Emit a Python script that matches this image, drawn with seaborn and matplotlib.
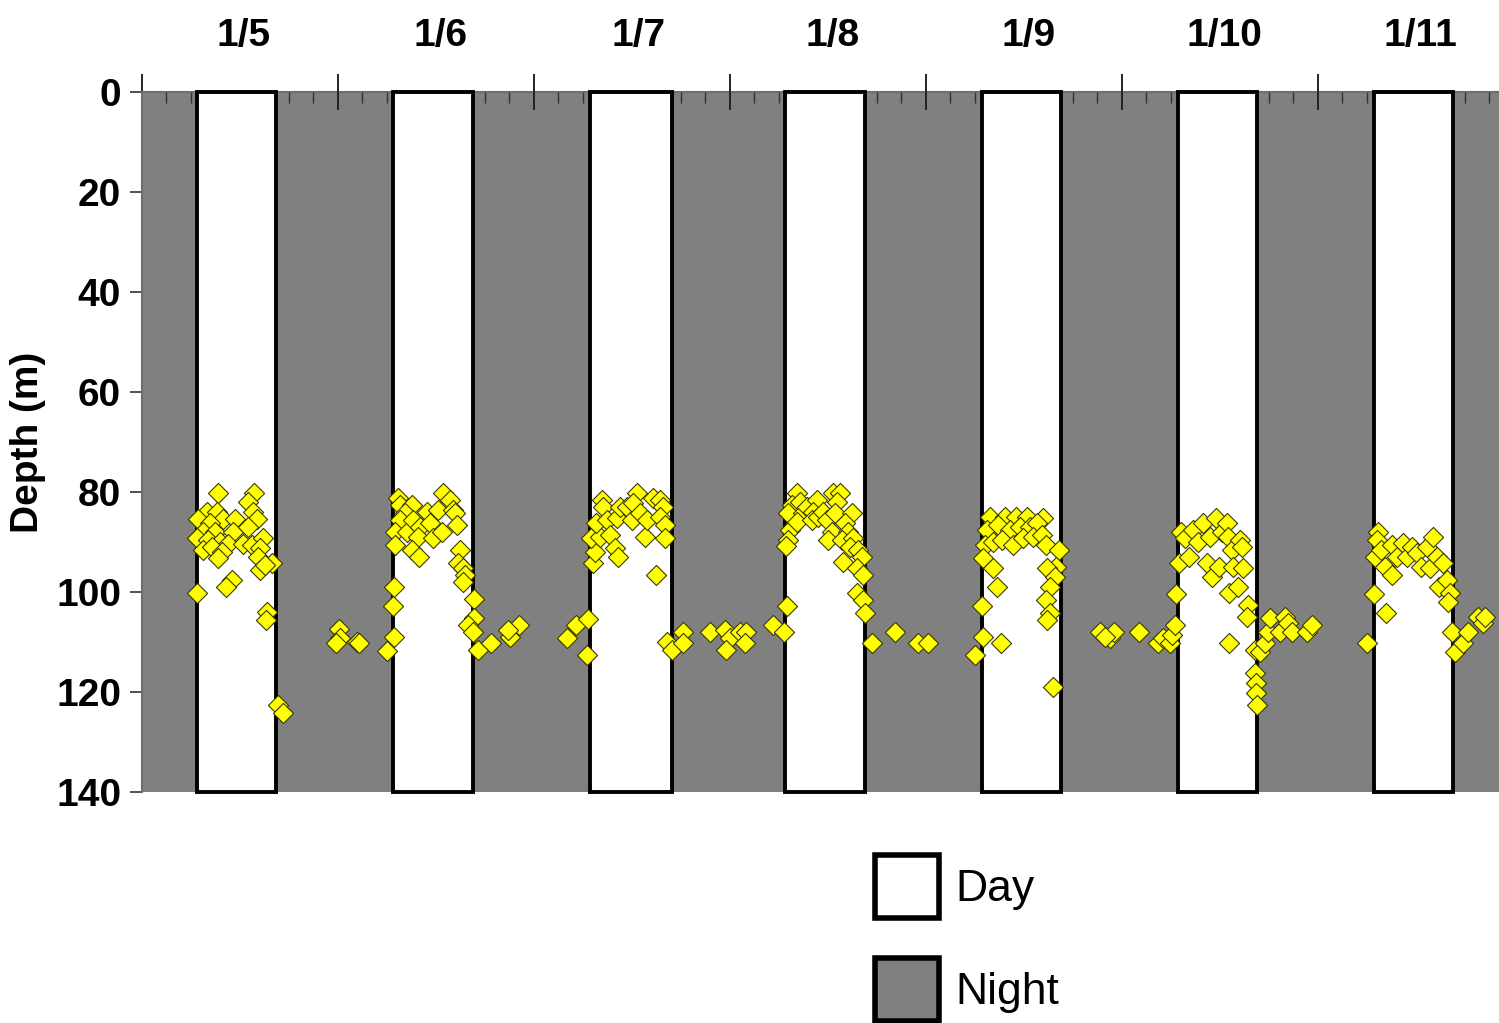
import matplotlib
matplotlib.use("Agg")
import matplotlib.pyplot as plt
from matplotlib.patches import Patch
from matplotlib.ticker import MultipleLocator
import seaborn as sns
import pandas as pd

# Date labels, one per day (hours counted from 1/5 00:00)
day_labels = ["1/5", "1/6", "1/7", "1/8", "1/9", "1/10", "1/11"]
sunrise_h = [6.70, 30.77, 54.85, 78.74, 102.86, 126.86, 150.90]
sunset_h = [16.41, 40.49, 64.90, 88.53, 112.53, 136.57, 160.57]

# Tag positions: elapsed hours and depth (m)
hours = [
    # 1/5 day
    9.3, 13.7, 13.0, 8.0, 9.2, 6.9, 9.9, 11.4, 13.6, 14.1, 8.3, 7.5, 8.9, 11.1, 13.0,
    6.7, 8.1, 9.6, 10.5, 12.4, 13.5, 14.8, 7.5, 8.6, 9.8, 14.5, 9.3, 14.2, 15.9, 14.5,
    15.1, 11.0, 10.3, 6.7, 15.3, 15.2, 16.7, 17.3,
    # 1/5 night
    24.1, 24.3, 23.8, 26.3, 26.6, 30.0, 30.9, 30.7, 30.9,
    # 1/6 day
    31.4, 31.6, 33.1, 32.2, 31.6, 31.0, 31.0, 32.5, 33.2, 34.0, 34.9, 35.3, 33.8, 33.1,
    33.9, 35.6, 36.7, 36.3, 36.9, 37.7, 38.1, 38.3, 38.6, 38.9, 38.7, 39.3, 39.6, 39.3,
    40.7,
    # 1/6 night
    40.7, 39.9, 40.5, 41.1, 42.7, 45.1, 46.2, 44.8, 52.0, 53.1, 54.6, 54.5,
    # 1/7 day
    55.2, 55.5, 55.0, 56.1, 55.6, 56.3, 56.5, 56.9, 57.3, 58.2, 58.5, 57.9, 58.3, 59.4,
    60.0, 60.6, 60.1, 61.0, 61.6, 61.8, 62.6, 63.4, 63.8, 63.4, 64.0, 64.0, 62.9,
    # 1/7 night
    64.3, 64.9, 66.3, 66.3, 69.6, 71.4, 72.0, 71.5, 73.2, 74.0, 73.8, 77.3, 78.6, 79.0,
    # 1/8 day
    80.2, 79.6, 79.1, 79.4, 79.1, 78.9, 80.6, 80.9, 80.2, 81.4, 82.7, 82.2, 82.0, 82.8,
    83.4, 83.9, 84.6, 85.5, 85.1, 84.9, 84.5, 84.0, 86.9, 86.1, 86.5, 85.7, 87.1, 86.7,
    87.7, 88.2, 85.8, 87.6, 88.3, 87.6, 88.3, 88.5,
    # 1/8 night
    89.4, 92.2, 95.0, 96.3, 102.0,
    # 1/9 day
    103.8, 105.7, 107.0, 108.4, 110.3, 103.5, 104.8, 106.3, 107.5, 108.7, 109.6, 103.2,
    104.2, 105.3, 106.7, 107.9, 109.1, 110.2, 110.7, 103.0, 104.2, 104.7, 112.3, 112.0,
    110.8, 111.8, 111.2, 110.7, 111.2, 110.8, 102.9, 103.0, 105.2, 111.6,
    # 1/9 night
    117.3, 118.5, 119.1, 118.0, 122.1, 124.4, 125.0, 125.9, 126.1, 126.5,
    # 1/10 day
    126.7, 127.0, 127.2, 127.7, 128.2, 128.7, 129.3, 129.9, 130.4, 130.8, 131.1, 131.6,
    131.9, 132.3, 132.9, 133.0, 133.1, 133.5, 133.6, 134.2, 134.5, 134.8, 134.7, 133.1,
    135.4, 135.3, 136.3, 136.3, 136.4, 136.4, 136.5,
    # 1/10 night
    136.9, 137.5, 137.9, 138.1, 139.4, 140.0, 140.3, 140.8, 142.7, 143.3, 150.0,
    # 1/11 day
    150.9, 151.4, 151.2, 151.0, 151.8, 152.2, 153.1, 152.3, 153.1, 153.7, 154.4, 154.9,
    155.5, 156.1, 156.7, 157.4, 158.1, 157.7, 158.6, 159.3, 158.9, 159.8, 160.2, 160.0,
    # 1/11 night
    160.5, 160.8, 161.8, 162.4, 163.6, 164.2, 164.5,
]
depth = [
    # 1/5 day
    80.2, 80.2, 82.0, 84.0, 84.0, 85.4, 85.4, 85.4, 84.0, 85.4, 86.2, 88.0, 88.0, 88.0, 87.0,
    89.2, 89.6, 90.0, 90.4, 90.4, 90.6, 89.2, 91.6, 91.0, 92.0, 91.2, 93.2, 93.0, 94.2, 95.6,
    94.6, 97.6, 99.0, 100.2, 104.0, 105.6, 122.6, 124.2,
    # 1/5 night
    107.4, 109.2, 110.2, 110.0, 110.2, 111.8, 109.0, 102.8, 99.0,
    # 1/6 day
    81.2, 82.6, 82.6, 84.2, 85.6, 88.0, 90.6, 88.0, 85.6, 87.0, 84.0, 86.2, 89.0, 91.6,
    93.0, 89.2, 88.0, 83.6, 80.2, 81.6, 83.6, 84.2, 86.6, 91.6, 94.2, 95.2, 96.6, 98.0,
    101.4,
    # 1/6 night
    105.2, 106.6, 108.0, 111.6, 110.2, 109.0, 106.6, 107.6, 109.2, 106.6, 105.4, 112.6,
    # 1/7 day
    94.2, 92.0, 89.2, 89.0, 86.2, 81.6, 83.0, 85.6, 88.6, 85.2, 83.0, 91.2, 93.0, 83.0,
    85.6, 80.2, 82.2, 84.2, 89.0, 85.6, 81.2, 81.6, 83.0, 85.0, 86.6, 89.2, 96.6,
    # 1/7 night
    110.0, 111.6, 108.0, 110.2, 108.0, 107.6, 109.2, 111.6, 108.0, 108.0, 110.2, 106.6,
    108.0, 102.8,
    # 1/8 day
    80.2, 82.6, 84.2, 87.6, 89.6, 90.8, 82.0, 84.2, 86.0, 83.0, 81.6, 84.0, 85.6, 85.0,
    84.0, 85.6, 80.2, 80.2, 82.0, 84.2, 88.0, 89.6, 84.2, 86.2, 88.0, 89.6, 89.2, 91.0,
    91.6, 93.0, 94.0, 95.2, 96.6, 100.2, 101.6, 104.2,
    # 1/8 night
    110.2, 108.0, 110.2, 110.2, 112.6,
    # 1/9 day
    85.0, 85.0, 85.0, 85.0, 85.2, 87.6, 86.6, 87.6, 87.0, 87.0, 86.2, 90.6,
    90.0, 89.6, 90.6, 89.2, 89.0, 88.6, 90.6, 93.2, 95.2, 99.0, 91.6, 95.0,
    95.2, 97.0, 99.0, 101.6, 104.2, 105.6, 102.8, 109.0, 110.2, 119.0,
    # 1/9 night
    108.0, 109.2, 108.0, 109.0, 108.0, 110.2, 109.2, 110.2, 108.6, 106.6,
    # 1/10 day
    100.4, 94.2, 88.0, 89.2, 93.0, 87.6, 90.0, 86.2, 94.2, 89.0, 97.0, 85.2,
    95.0, 88.0, 86.2, 89.0, 100.2, 91.6, 95.0, 99.0, 89.6, 95.2, 91.0, 110.2,
    102.6, 105.0, 111.6, 116.2, 118.2, 120.2, 122.6,
    # 1/10 night
    112.0, 110.2, 108.0, 105.2, 108.0, 105.0, 106.2, 108.0, 108.0, 106.6, 110.2,
    # 1/11 day
    100.4, 88.0, 89.6, 93.0, 91.6, 95.0, 96.6, 104.2, 90.6, 93.0, 90.2, 93.0,
    91.0, 92.2, 95.0, 91.0, 89.0, 95.2, 93.0, 94.2, 99.0, 97.6, 100.2, 102.0,
    # 1/11 night
    108.0, 112.0, 110.2, 108.0, 105.0, 106.2, 105.0,
]

tags = pd.DataFrame({"hours": hours, "depth": depth})
daylight = pd.DataFrame({"start": sunrise_h, "end": sunset_h, "label": day_labels})

sns.set_theme(style="white")
plt.rcParams["font.family"] = ["Liberation Sans", "DejaVu Sans"]
plt.rcParams["text.color"] = "black"
plt.rcParams["xtick.color"] = "black"
plt.rcParams["ytick.color"] = "black"
plt.rcParams["axes.labelcolor"] = "black"

NIGHT = "#808080"
fig = plt.figure(figsize=(14.99, 10.23), dpi=100)
ax = fig.add_axes([142 / 1499, 231 / 1023, 1357 / 1499, 700 / 1023])
ax.set_facecolor(NIGHT)

# Daylight periods as white boxes spanning the full depth range
ax.bar(daylight["start"], 140, width=daylight["end"] - daylight["start"], bottom=0,
       align="edge", color="white", edgecolor="black", linewidth=2.8, zorder=1,
       clip_on=False)

sns.scatterplot(data=tags, x="hours", y="depth", ax=ax, marker="D", s=105,
                color="#FFFF00", edgecolor="#3a3a00", linewidth=0.8, zorder=3,
                clip_on=False)

ax.set_xlim(0, 166.2)
ax.set_ylim(140, 0)

# Hour axis along the top: major ticks at midnight, minor every 3 h
ax.xaxis.tick_top()
ax.xaxis.set_major_locator(MultipleLocator(24))
ax.xaxis.set_minor_locator(MultipleLocator(3))
ax.tick_params(axis="x", which="major", direction="inout", length=26, width=1.4,
               color="#222222", labeltop=False, labelbottom=False, top=True, bottom=False)
ax.tick_params(axis="x", which="minor", direction="in", length=8, width=1.0,
               color="#333333", top=True, bottom=False)
ax.set_xlabel("")

for mid, lab in zip((daylight["start"] + daylight["end"]) / 2 + 0.9, daylight["label"]):
    ax.text(mid, 1.066, lab, transform=ax.get_xaxis_transform(), ha="center",
            va="baseline", fontsize=28, fontweight="bold", color="black")

ax.set_yticks(range(0, 141, 20))
ax.tick_params(axis="y", which="major", direction="out", length=9, width=1.2,
               color="#333333", labelcolor="black", left=True, pad=6, labelsize=28)
for t in ax.get_yticklabels():
    t.set_fontweight("bold")
ax.set_ylabel("Depth (m)", fontsize=28, fontweight="bold", color="black")
ax.yaxis.set_label_coords(-0.071, 0.5)

for side in ("bottom", "right"):
    ax.spines[side].set_visible(False)
for side in ("top", "left"):
    ax.spines[side].set_color("#6e6e6e")
    ax.spines[side].set_linewidth(1.5)
ax.spines["top"].set_zorder(0.5)

handles = [Patch(facecolor="white", edgecolor="black", linewidth=4, label="Day"),
           Patch(facecolor=NIGHT, edgecolor="black", linewidth=4, label="Night")]
fig.legend(handles=handles, loc="upper left", bbox_to_anchor=(875 / 1499, 1 - 855 / 1023),
           frameon=False, fontsize=32, handlelength=1.44, handleheight=1.8,
           handletextpad=0.36, labelspacing=0.9, borderpad=0, borderaxespad=0)

fig.savefig("out.png", dpi=100)
